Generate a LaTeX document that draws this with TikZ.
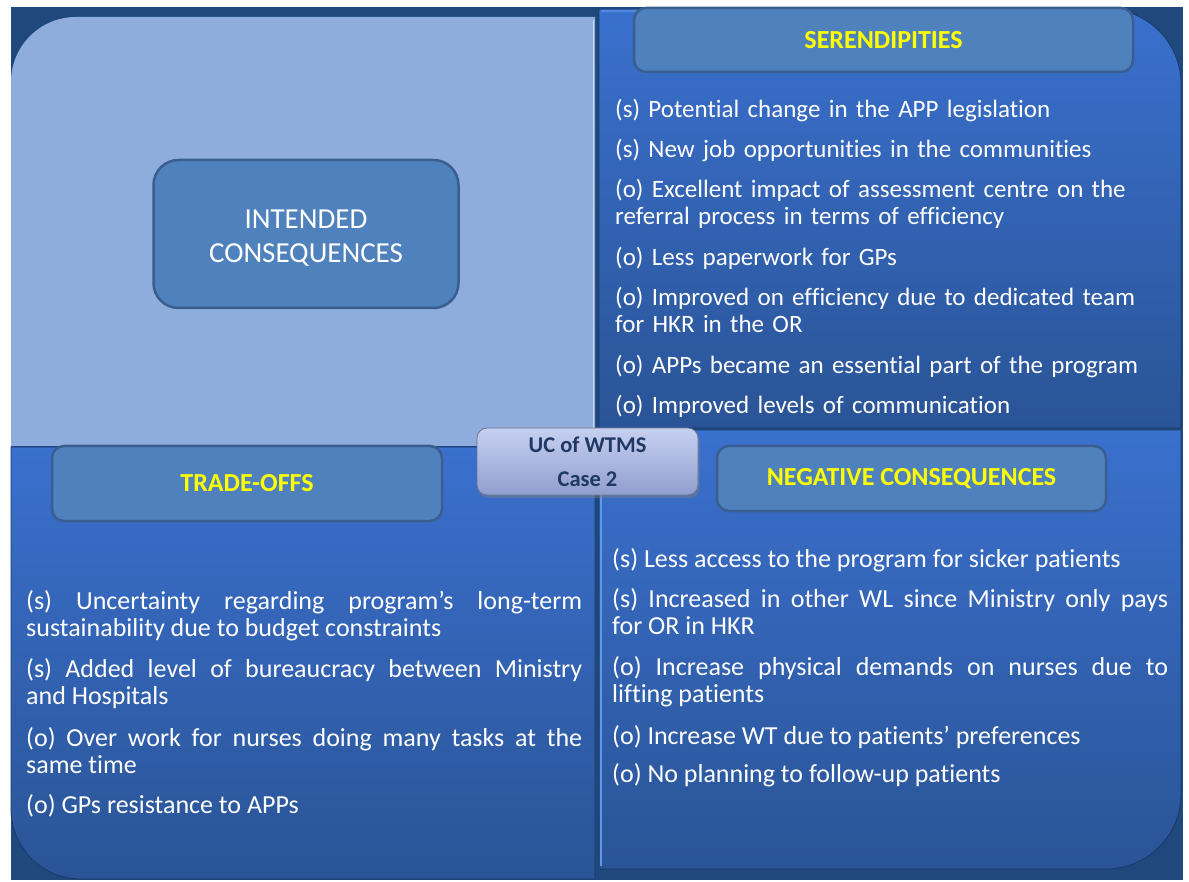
\documentclass[tikz,border=0pt]{standalone}
\usepackage{fontspec}
\setmainfont{Carlito}[Ligatures=NoCommon]
\usetikzlibrary{shadows}

\definecolor{bgdark}{RGB}{31,73,125}
\definecolor{quadlight}{RGB}{142,173,221}
\definecolor{quadtop}{RGB}{58,112,206}
\definecolor{quadbot}{RGB}{42,84,150}
\definecolor{quadedge}{RGB}{26,58,102}
\definecolor{divhl}{RGB}{96,152,232}
\definecolor{hdrfill}{RGB}{79,129,189}
\definecolor{hdrline}{RGB}{58,94,144}
\definecolor{hdrtext}{RGB}{255,255,0}
\definecolor{hubtop}{RGB}{198,208,240}
\definecolor{hubbot}{RGB}{144,158,206}
\definecolor{hubline}{RGB}{104,114,146}
\definecolor{hubtext}{RGB}{31,56,100}

\begin{document}
\tolerance=9999
\hyphenpenalty=10000
\begin{tikzpicture}[x=1pt,y=-1pt,
  quad/.style={draw=quadedge, line width=0.8pt},
  hdr/.style={draw=hdrline, line width=2.5pt, fill=hdrfill, rounded corners=12pt, inner sep=0pt},
  hdrtitle/.style={hdr, text=hdrtext, font=\fontsize{26}{30}\selectfont\bfseries},
  hub/.style={draw=hubline, line width=0.8pt, top color=hubtop, bottom color=hubbot,
    rounded corners=10pt, inner sep=0pt, align=center, text=hubtext,
    font=\fontsize{22.5}{34}\selectfont\bfseries,
    drop shadow={opacity=0.45, shadow xshift=1.5pt, shadow yshift=-3pt}},
  item/.style={anchor=base west, inner sep=0pt, text=white, text width=556pt},
  itemleft/.style={item, align=left, font=\fontsize{25}{27}\selectfont},
  itemjust/.style={item, align=justify, font=\fontsize{26}{27.6}\selectfont}
]
\useasboundingbox (0,0) rectangle (1189,882);
\fill[white] (0,0) rectangle (1189,882);
\fill[bgdark] (11,7) rectangle (1183,880);

% four quadrants, each rounded at its outer corner
\fill[quadlight] (11,446) -- (11,82) arc[start angle=180,end angle=270,radius=65]
  -- (595,17) -- (595,446) -- cycle;
\shade[quad, top color=quadtop, bottom color=quadbot] (599,428) -- (599,9) -- (1106,9)
  arc[start angle=270,end angle=360,radius=75] -- (1181,428) -- cycle;
\shade[quad, top color=quadtop, bottom color=quadbot] (11,447) -- (595,447) -- (595,879)
  -- (81,879) arc[start angle=90,end angle=180,radius=70] -- cycle;
\shade[quad, top color=quadtop, bottom color=quadbot] (599,430) -- (1181,430) -- (1181,794)
  arc[start angle=0,end angle=90,radius=75] -- (599,869) -- cycle;

% bevel highlights along the central divider
\draw[white!55!quadlight, line width=1.5pt] (593.5,20) -- (593.5,444);
\draw[divhl, line width=2pt] (600.5,432) -- (600.5,866);
\draw[divhl!60!quadtop, line width=1.5pt] (601,11) -- (1104,11);

% quadrant titles
\node[hdr, rounded corners=25pt, minimum width=305pt, minimum height=148pt] (intended) at (306,234) {};
\node[text=white, align=center, font=\fontsize{29}{34}\selectfont, inner sep=0pt]
  (intendedtext) at (306,238) {INTENDED\\CONSEQUENCES};
\node[hdrtitle, minimum width=499pt, minimum height=64pt] (seren) at (883.5,40) {SERENDIPITIES};
\node[hdrtitle, minimum width=390pt, minimum height=75pt] (trade) at (247,483.5) {TRADE-OFFS};
\node[hdrtitle, minimum width=389pt, minimum height=65pt] (negative) at (911.5,478.5) {NEGATIVE CONSEQUENCES};

% central label
\node[hub, minimum width=221pt, minimum height=67pt] (hub) at (587.5,461.5) {UC of WTMS\\Case 2};

% serendipities
\node[itemleft] (s1) at (615,118) {(s) Potential change in the APP legislation};
\node[itemleft] (s2) at (615,158) {(s) New job opportunities in the communities};
\node[itemleft] (s3) at (615,198) {(o) Excellent impact of assessment centre on the\\referral process in terms of efficiency};
\node[itemleft] (s4) at (615,266) {(o) Less paperwork for GPs};
\node[itemleft] (s5) at (615,306) {(o) Improved on efficiency due to dedicated team\\for HKR in the OR};
\node[itemleft] (s6) at (615,374) {(o) APPs became an essential part of the program};
\node[itemleft] (s7) at (615,414) {(o) Improved levels of communication};

% trade-offs
\node[itemjust] (t1) at (26,609) {(s) Uncertainty regarding program’s long-term\linebreak sustainability due to budget constraints};
\node[itemjust] (t2) at (26,677) {(s) Added level of bureaucracy between Ministry\linebreak and Hospitals};
\node[itemjust] (t3) at (26,746) {(o) Over work for nurses doing many tasks at the\linebreak same time};
\node[itemjust] (t4) at (26,813) {(o) GPs resistance to APPs};

% negative consequences
\node[itemjust] (n1) at (612,567) {(s) Less access to the program for sicker patients};
\node[itemjust] (n2) at (612,607) {(s) Increased in other WL since Ministry only pays\linebreak for OR in HKR};
\node[itemjust] (n3) at (612,675) {(o) Increase physical demands on nurses due to\linebreak lifting patients};
\node[itemjust] (n4) at (612,744) {(o) Increase WT due to patients’ preferences};
\node[itemjust] (n5) at (612,782) {(o) No planning to follow-up patients};
\end{tikzpicture}
\end{document}
